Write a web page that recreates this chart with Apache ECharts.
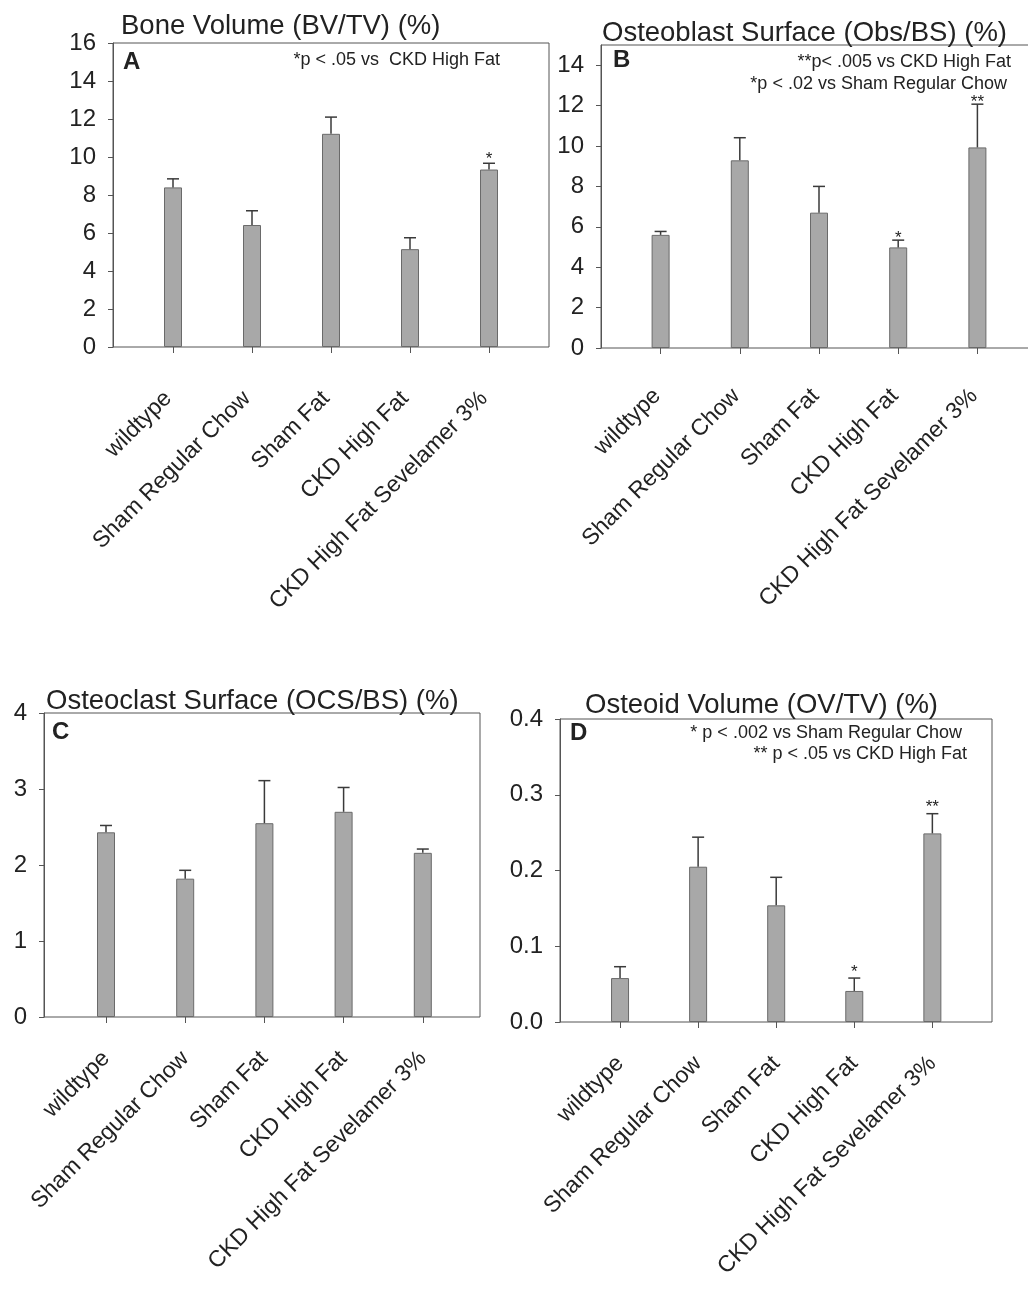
<!DOCTYPE html>
<html>
<head>
<meta charset="utf-8">
<script src="https://cdn.jsdelivr.net/npm/echarts@6.0.0/dist/echarts.min.js"></script>
<style>
html,body{margin:0;padding:0;background:#fff;}
#c{width:1028px;height:1289px;}
</style>
</head>
<body>
<div id="c"></div>
<script>
// ---- data ----
const categories = ['wildtype', 'Sham Regular Chow', 'Sham Fat', 'CKD High Fat', 'CKD High Fat Sevelamer 3%'];

const bvMean = [8.4, 6.42, 11.22, 5.15, 9.34];
const bvSem  = [0.45, 0.75, 0.88, 0.6, 0.33];
const bvSig  = ['', '', '', '', '*'];

const obsMean = [5.6, 9.29, 6.7, 4.98, 9.93];
const obsSem  = [0.17, 1.12, 1.3, 0.36, 2.14];
const obsSig  = ['', '', '', '*', '**'];

const ocsMean = [2.43, 1.82, 2.55, 2.7, 2.16];
const ocsSem  = [0.09, 0.11, 0.56, 0.32, 0.05];
const ocsSig  = ['', '', '', '', ''];

const ovMean = [0.058, 0.205, 0.154, 0.041, 0.249];
const ovSem  = [0.015, 0.039, 0.037, 0.017, 0.026];
const ovSig  = ['', '', '', '*', '**'];

const bvTicks  = [0, 2, 4, 6, 8, 10, 12, 14, 16];
const obsTicks = [0, 2, 4, 6, 8, 10, 12, 14];
const ocsTicks = [0, 1, 2, 3, 4];
const ovTicks  = [0, 0.1, 0.2, 0.3, 0.4];

// ---- layout ----
const FONT = '"Liberation Sans", Arial, Helvetica, sans-serif';
const TXT = '#222';
const AX = '#555';

const panels = [
  { mean: bvMean, sem: bvSem, sig: bvSig, ticks: bvTicks, max: 16, dec: 0, starGap: 4,
    box: {left: 113, top: 43, width: 436, height: 304}, dataLeft: 133.5, dataWidth: 395, labelMargin: 43, labelPad: 7 },
  { mean: obsMean, sem: obsSem, sig: obsSig, ticks: obsTicks, max: 15, dec: 0, starGap: 2,
    box: {left: 601, top: 45, width: 436, height: 303}, dataLeft: 621, dataWidth: 396, labelMargin: 41, labelPad: 5 },
  { mean: ocsMean, sem: ocsSem, sig: ocsSig, ticks: ocsTicks, max: 4, dec: 0, starGap: 4,
    box: {left: 44, top: 713, width: 436, height: 304}, dataLeft: 66.4, dataWidth: 396, labelMargin: 38, labelPad: 0 },
  { mean: ovMean, sem: ovSem, sig: ovSig, ticks: ovTicks, max: 0.4, dec: 1, starGap: 6,
    box: {left: 560, top: 719, width: 432, height: 303}, dataLeft: 581, dataWidth: 390.4, labelMargin: 38, labelPad: 0 }
];

const grid = [], xAxis = [], yAxis = [], series = [];

panels.forEach((p, k) => {
  const bi = 2 * k, di = 2 * k + 1;
  grid.push({ left: p.box.left, top: p.box.top, width: p.box.width, height: p.box.height,
    show: true, borderColor: AX, borderWidth: 1, backgroundColor: 'transparent', outerBoundsMode: 'none' });
  grid.push({ left: p.dataLeft, top: p.box.top, width: p.dataWidth, height: p.box.height,
    show: false, outerBoundsMode: 'none' });
  xAxis.push({ type: 'value', gridIndex: bi, show: false, min: 0, max: 1 });
  yAxis.push({ type: 'value', gridIndex: bi, show: false, min: 0, max: 1 });
  xAxis.push({
    type: 'category', gridIndex: di, data: categories, boundaryGap: true,
    axisLine: { show: false },
    axisTick: { show: true, alignWithLabel: true, length: 6, lineStyle: { color: AX } },
    axisLabel: { interval: 0, rotate: 45, margin: p.labelMargin, fontSize: 23, color: TXT, fontFamily: FONT,
      padding: [0, p.labelPad, 0, 0] }
  });
  yAxis.push({
    type: 'value', gridIndex: di, min: 0, max: p.max, offset: p.dataLeft - p.box.left,
    splitLine: { show: false },
    axisLine: { show: true, lineStyle: { color: AX } },
    axisTick: { show: true, length: 5, customValues: p.ticks, lineStyle: { color: AX } },
    axisLabel: { customValues: p.ticks, fontSize: 24, color: TXT, fontFamily: FONT, margin: 17,
      formatter: v => Number(v).toFixed(p.dec) }
  });
  series.push({
    type: 'bar', xAxisIndex: di, yAxisIndex: di, data: p.mean, barWidth: 18,
    itemStyle: { color: '#a8a8a8', borderColor: '#6a6a6a', borderWidth: 1 }, z: 2
  });
  series.push({
    type: 'custom', xAxisIndex: di, yAxisIndex: di, z: 3,
    data: p.mean.map((m, i) => [i, m, p.sem[i]]),
    renderItem: (params, api) => {
      const x = api.value(0), m = api.value(1), e = api.value(2);
      const p0 = api.coord([x, m]);
      const p1 = api.coord([x, m + e]);
      const s = p.sig[params.dataIndex];
      const st = { stroke: '#3a3a3a', lineWidth: 1.5 };
      const children = [
        { type: 'line', shape: { x1: p0[0], y1: p0[1], x2: p1[0], y2: p1[1] }, style: st },
        { type: 'line', shape: { x1: p1[0] - 6, y1: p1[1], x2: p1[0] + 6, y2: p1[1] }, style: st }
      ];
      if (s) children.push({ type: 'text', x: p1[0], y: p1[1] - p.starGap,
        style: { text: s, textAlign: 'center', textVerticalAlign: 'middle', fontSize: 17, fill: TXT, fontFamily: FONT } });
      return { type: 'group', children };
    }
  });
});

const titleStyle = { fontSize: 27.5, fontWeight: 'normal', color: TXT, fontFamily: FONT };
const title = [
  { text: 'Bone Volume (BV/TV) (%)', left: 121, top: 12, textStyle: titleStyle, padding: 0 },
  { text: 'Osteoblast Surface (Obs/BS) (%)', left: 602, top: 19, textStyle: titleStyle, padding: 0 },
  { text: 'Osteoclast Surface (OCS/BS) (%)', left: 46, top: 687, textStyle: titleStyle, padding: 0 },
  { text: 'Osteoid Volume (OV/TV) (%)', left: 585, top: 691, textStyle: titleStyle, padding: 0 }
];

function txt(x, y, s, align, size, bold) {
  return { type: 'text', x: x, y: y, z: 10,
    style: { text: s, textAlign: align, textVerticalAlign: 'middle', fontSize: size,
      fontWeight: bold ? 'bold' : 'normal', fill: TXT, fontFamily: FONT } };
}

const graphic = [
  txt(123, 62, 'A', 'left', 24, true),
  txt(613, 60, 'B', 'left', 24, true),
  txt(52, 732, 'C', 'left', 24, true),
  txt(570, 733, 'D', 'left', 24, true),
  txt(500, 60, '*p < .05 vs  CKD High Fat', 'right', 18),
  txt(1011, 62, '**p< .005 vs CKD High Fat', 'right', 18),
  txt(1007, 84, '*p < .02 vs Sham Regular Chow', 'right', 18),
  txt(962, 733, '* p < .002 vs Sham Regular Chow', 'right', 18),
  txt(967, 754, '** p < .05 vs CKD High Fat', 'right', 18)
];

const chart = echarts.init(document.getElementById('c'));
chart.setOption({
  animation: false,
  backgroundColor: '#fff',
  textStyle: { fontFamily: FONT },
  title, grid, xAxis, yAxis, series, graphic
});
</script>
</body>
</html>
